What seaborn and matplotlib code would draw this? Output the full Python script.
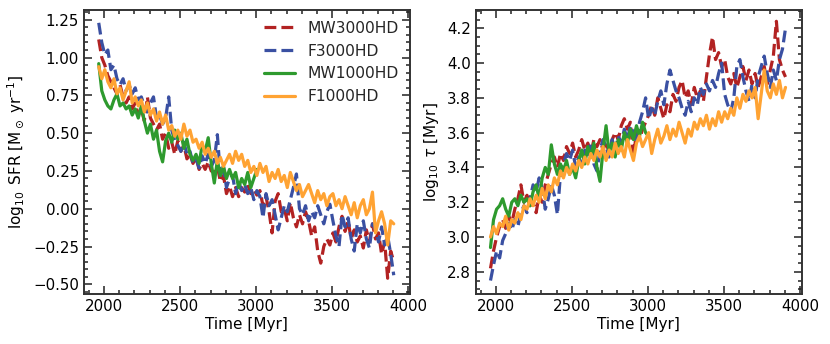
import numpy as np
import pandas as pd
import matplotlib
matplotlib.use("Agg")
import matplotlib.pyplot as plt
import seaborn as sns

# Valeurs (pas de 20 Myr a partir de 1965 Myr)
T0 = 1965
DT = 20

sfr_mw3000 = [1.12, 1.00, 0.95, 0.88, 0.84, 0.80, 0.76, 0.82, 0.74, 0.70,
              0.74, 0.66, 0.70, 0.62, 0.66, 0.58, 0.74, 0.60, 0.56, 0.52,
              0.56, 0.46, 0.50, 0.40, 0.44, 0.36, 0.45, 0.38, 0.42, 0.33,
              0.36, 0.30, 0.34, 0.26, 0.30, 0.26, 0.31, 0.25, 0.24, 0.28,
              0.18, 0.22, 0.10, 0.15, 0.08, 0.14, 0.08, 0.14, 0.11, 0.16,
              0.10, 0.13, 0.09, 0.12, 0.02, 0.08, -0.02, -0.16, 0.05, 0.10,
              -0.02, 0.00, -0.08, 0.04, -0.06, -0.12, -0.04, -0.10, -0.02, -0.08,
              -0.18, -0.12, -0.28, -0.36, -0.25, -0.20, -0.24, -0.16, -0.22, -0.12,
              -0.05, -0.15, -0.08, -0.20, -0.14, -0.22, -0.18, -0.26, -0.14, -0.22,
              -0.10, -0.20, -0.16, -0.30, -0.22, -0.46, -0.28, -0.35]

sfr_f3000 = [1.23, 1.10, 1.02, 1.05, 0.92, 0.95, 0.86, 0.82, 0.86, 0.78,
             0.82, 0.76, 0.80, 0.72, 0.74, 0.68, 0.64, 0.70, 0.74, 0.60,
             0.62, 0.56, 0.60, 0.74, 0.52, 0.45, 0.42, 0.38, 0.44, 0.36,
             0.38, 0.30, 0.33, 0.27, 0.35, 0.30, 0.36, 0.28, 0.32, 0.49,
             0.22, 0.28, 0.14, 0.20, 0.22, 0.10, 0.18, 0.12, 0.16, 0.10,
             0.14, 0.06, 0.12, 0.08, -0.06, 0.10, 0.02, 0.06, -0.04, -0.14,
             -0.06, 0.02, -0.02, 0.06, 0.14, 0.23, 0.00, -0.04, 0.02, -0.08,
             -0.02, -0.06, 0.02, -0.04, -0.10, -0.02, 0.03, -0.08, -0.18, -0.25,
             -0.04, -0.12, -0.06, -0.20, -0.28, -0.10, -0.16, -0.08, -0.20, -0.26,
             -0.10, -0.14, -0.22, -0.12, -0.24, -0.18, -0.30, -0.44]

sfr_mw1000 = [0.96, 0.78, 0.72, 0.68, 0.66, 0.72, 0.76, 0.68, 0.70, 0.66,
              0.68, 0.62, 0.66, 0.60, 0.68, 0.58, 0.50, 0.56, 0.46, 0.52,
              0.38, 0.31, 0.45, 0.50, 0.44, 0.52, 0.46, 0.50, 0.40, 0.46,
              0.36, 0.32, 0.36, 0.30, 0.42, 0.38, 0.47, 0.30, 0.17, 0.32,
              0.22, 0.28, 0.20, 0.26, 0.20, 0.24, 0.14, 0.20, 0.16, 0.24,
              0.14, 0.20, 0.26]

sfr_f1000 = [0.94, 0.86, 0.92, 0.84, 0.80, 0.86, 0.76, 0.80, 0.72, 0.78,
             0.84, 0.70, 0.74, 0.68, 0.72, 0.64, 0.70, 0.62, 0.66, 0.58,
             0.64, 0.56, 0.62, 0.52, 0.55, 0.48, 0.52, 0.46, 0.56, 0.48,
             0.52, 0.44, 0.46, 0.40, 0.44, 0.36, 0.40, 0.34, 0.38, 0.30,
             0.34, 0.28, 0.32, 0.36, 0.30, 0.38, 0.32, 0.36, 0.28, 0.32,
             0.24, 0.28, 0.22, 0.30, 0.24, 0.28, 0.18, 0.24, 0.20, 0.26,
             0.18, 0.22, 0.14, 0.24, 0.18, 0.12, 0.16, 0.08, 0.12, 0.16,
             0.10, 0.04, 0.12, 0.06, 0.10, 0.02, 0.08, 0.10, 0.02, 0.06,
             0.00, 0.08, 0.02, -0.04, 0.04, -0.06, 0.02, 0.06, -0.04, 0.00,
             0.11, -0.16, -0.08, -0.02, -0.10, -0.24, -0.08, -0.10]

tau_mw3000 = [2.82, 2.92, 3.00, 3.06, 3.10, 3.05, 3.12, 3.08, 3.16, 3.22,
              3.30, 3.20, 3.24, 3.18, 3.20, 3.14, 3.24, 3.20, 3.30, 3.36,
              3.42, 3.46, 3.40, 3.48, 3.44, 3.52, 3.48, 3.54, 3.46, 3.50,
              3.56, 3.50, 3.54, 3.48, 3.56, 3.52, 3.56, 3.50, 3.55, 3.48,
              3.56, 3.60, 3.56, 3.64, 3.68, 3.62, 3.66, 3.46, 3.60, 3.56,
              3.62, 3.66, 3.70, 3.76, 3.70, 3.80, 3.74, 3.68, 3.76, 3.72,
              3.82, 3.78, 3.86, 3.90, 3.80, 3.84, 3.76, 3.86, 3.80, 3.84,
              3.78, 3.92, 4.05, 4.15, 4.02, 4.06, 3.98, 4.02, 3.92, 3.88,
              3.94, 3.86, 3.92, 3.98, 3.90, 3.96, 3.88, 3.94, 3.86, 3.92,
              3.98, 3.88, 3.96, 4.04, 4.24, 4.02, 3.96, 3.92]

tau_f3000 = [2.75, 2.84, 2.92, 2.88, 2.98, 3.02, 3.08, 3.04, 3.10, 3.06,
             3.14, 3.18, 3.14, 3.22, 3.30, 3.26, 3.34, 3.28, 3.16, 3.22,
             3.30, 3.24, 3.13, 3.36, 3.42, 3.48, 3.44, 3.50, 3.40, 3.46,
             3.42, 3.50, 3.46, 3.54, 3.42, 3.38, 3.50, 3.56, 3.52, 3.46,
             3.56, 3.50, 3.58, 3.54, 3.62, 3.56, 3.64, 3.60, 3.54, 3.66,
             3.72, 3.80, 3.68, 3.74, 3.70, 3.78, 3.84, 3.76, 3.88, 3.96,
             3.90, 3.84, 3.80, 3.74, 3.70, 3.78, 3.72, 3.80, 3.76, 3.86,
             3.82, 3.88, 3.84, 3.90, 3.86, 3.94, 4.00, 3.82, 3.76, 3.72,
             3.80, 3.98, 4.02, 3.92, 3.84, 3.78, 3.88, 3.80, 3.92, 3.98,
             4.04, 3.94, 3.86, 3.96, 3.90, 4.02, 4.08, 4.20]

tau_mw1000 = [2.94, 3.10, 3.16, 3.18, 3.22, 3.16, 3.12, 3.20, 3.22, 3.18,
              3.24, 3.20, 3.22, 3.18, 3.26, 3.30, 3.22, 3.34, 3.40, 3.36,
              3.53, 3.42, 3.36, 3.42, 3.38, 3.44, 3.36, 3.40, 3.34, 3.44,
              3.50, 3.42, 3.52, 3.46, 3.54, 3.40, 3.32, 3.50, 3.64, 3.48,
              3.54, 3.46, 3.56, 3.50, 3.60, 3.54, 3.62, 3.56, 3.64, 3.58,
              3.66, 3.60, 3.58]

tau_f1000 = [3.00, 3.06, 3.02, 3.08, 3.06, 3.12, 3.04, 3.10, 3.08, 3.14,
             3.10, 3.18, 3.16, 3.22, 3.18, 3.24, 3.20, 3.28, 3.22, 3.30,
             3.26, 3.34, 3.30, 3.38, 3.34, 3.40, 3.36, 3.42, 3.38, 3.44,
             3.40, 3.46, 3.42, 3.48, 3.44, 3.50, 3.46, 3.52, 3.44, 3.50,
             3.46, 3.54, 3.48, 3.52, 3.46, 3.56, 3.50, 3.44, 3.54, 3.58,
             3.52, 3.56, 3.60, 3.48, 3.56, 3.62, 3.54, 3.58, 3.64, 3.56,
             3.62, 3.58, 3.66, 3.60, 3.54, 3.62, 3.58, 3.66, 3.62, 3.68,
             3.64, 3.70, 3.62, 3.68, 3.64, 3.72, 3.66, 3.72, 3.68, 3.74,
             3.70, 3.80, 3.74, 3.82, 3.78, 3.84, 3.80, 3.86, 3.68, 3.82,
             3.96, 3.84, 3.80, 3.88, 3.82, 3.90, 3.80, 3.86]

runs = ["MW3000HD", "F3000HD", "MW1000HD", "F1000HD"]
colors = ["#b22222", "#3a50a2", "#2e9a2e", "#ffa333"]
styles = ["--", "--", "-", "-"]


def to_frame(series_list):
    # Une table longue par panneau
    frames = []
    for name, vals in zip(runs, series_list):
        t = T0 + DT * np.arange(len(vals))
        frames.append(pd.DataFrame({"time": t, "value": vals, "run": name}))
    return pd.concat(frames, ignore_index=True)


df_sfr = to_frame([sfr_mw3000, sfr_f3000, sfr_mw1000, sfr_f1000])
df_tau = to_frame([tau_mw3000, tau_f3000, tau_mw1000, tau_f1000])

sns.set_style("white")
plt.rcParams["font.family"] = ["DejaVu Sans"]
plt.rcParams["mathtext.fontset"] = "dejavusans"

fig = plt.figure(figsize=(8.3, 3.44), dpi=100)
ax1 = fig.add_axes([0.101, 0.145, 0.393, 0.826])
ax2 = fig.add_axes([0.573, 0.145, 0.393, 0.826])

for ax, df in [(ax1, df_sfr), (ax2, df_tau)]:
    for name, col, ls in zip(runs, colors, styles):
        sub = df[df["run"] == name]
        sns.lineplot(data=sub, x="time", y="value", ax=ax, color=col,
                     linestyle=ls, linewidth=2.3, label=name, legend=False)
    ax.set_xlim(1867, 4012)
    ax.set_xticks([2000, 2500, 3000, 3500, 4000])
    ax.minorticks_on()
    ax.tick_params(which="both", direction="in", bottom=True, left=True,
                   top=True, right=True, labelsize=10.8, width=1.1,
                   color="#222222", labelcolor="black")
    ax.tick_params(which="major", length=6)
    ax.tick_params(which="minor", length=3)
    for sp in ax.spines.values():
        sp.set_linewidth(1.4)
        sp.set_color("#333333")
    ax.set_xlabel("Time [Myr]", fontsize=11, labelpad=2, color="black")

ax1.set_ylim(-0.565, 1.315)
ax1.set_yticks([-0.5, -0.25, 0.0, 0.25, 0.5, 0.75, 1.0, 1.25])
ax1.set_ylabel(r"$\log_{10}$ SFR [M$_\odot$ yr$^{-1}$]", fontsize=11, color="black")
ax2.set_ylim(2.672, 4.305)
ax2.set_yticks([2.8, 3.0, 3.2, 3.4, 3.6, 3.8, 4.0, 4.2])
ax2.set_ylabel(r"$\log_{10}$ $\tau$ [Myr]", fontsize=11, color="black")

ax1.legend(loc="upper right", frameon=False, fontsize=11.2,
           handlelength=2.0, borderaxespad=0.3, labelspacing=0.5)

plt.savefig("out.png", dpi=100)
